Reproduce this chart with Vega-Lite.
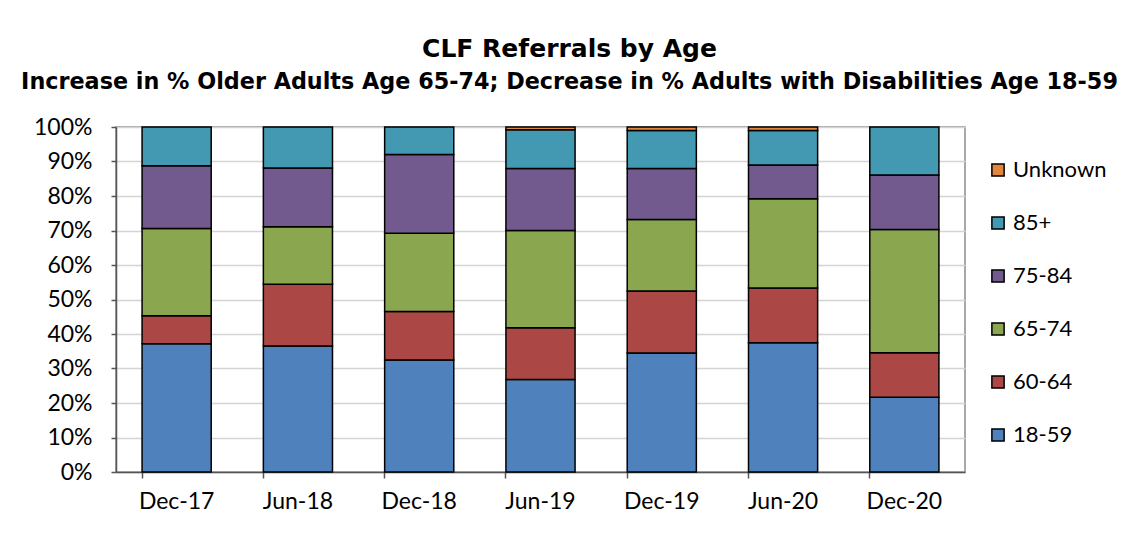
{
  "$schema": "https://vega.github.io/schema/vega-lite/v6.json",
  "autosize": "none",
  "width": 849,
  "height": 345,
  "padding": {"left": 116, "top": 127, "right": 173, "bottom": 74},
  "background": "white",
  "title": {
    "text": "CLF Referrals by Age",
    "subtitle": "Increase in % Older Adults Age 65-74; Decrease in % Adults with Disabilities Age 18-59",
    "font": "DejaVu Sans",
    "fontSize": 25,
    "fontWeight": "bold",
    "color": "black",
    "subtitleFont": "DejaVu Sans",
    "subtitleFontSize": 22.3,
    "subtitleFontWeight": "bold",
    "subtitleColor": "black",
    "subtitlePadding": 9,
    "anchor": "middle",
    "dx": 29,
    "offset": 23
  },
  "data": {
    "values": [
      {"period": "Dec-17", "group": "18-59", "pct": 37.2},
      {"period": "Dec-17", "group": "60-64", "pct": 8.1},
      {"period": "Dec-17", "group": "65-74", "pct": 25.3},
      {"period": "Dec-17", "group": "75-84", "pct": 18.2},
      {"period": "Dec-17", "group": "85+", "pct": 11.2},
      {"period": "Jun-18", "group": "18-59", "pct": 36.5},
      {"period": "Jun-18", "group": "60-64", "pct": 17.9},
      {"period": "Jun-18", "group": "65-74", "pct": 16.7},
      {"period": "Jun-18", "group": "75-84", "pct": 17.0},
      {"period": "Jun-18", "group": "85+", "pct": 11.9},
      {"period": "Dec-18", "group": "18-59", "pct": 32.5},
      {"period": "Dec-18", "group": "60-64", "pct": 14.0},
      {"period": "Dec-18", "group": "65-74", "pct": 22.7},
      {"period": "Dec-18", "group": "75-84", "pct": 22.8},
      {"period": "Dec-18", "group": "85+", "pct": 8.0},
      {"period": "Jun-19", "group": "18-59", "pct": 26.8},
      {"period": "Jun-19", "group": "60-64", "pct": 15.0},
      {"period": "Jun-19", "group": "65-74", "pct": 28.2},
      {"period": "Jun-19", "group": "75-84", "pct": 18.0},
      {"period": "Jun-19", "group": "85+", "pct": 11.2},
      {"period": "Jun-19", "group": "Unknown", "pct": 0.8},
      {"period": "Dec-19", "group": "18-59", "pct": 34.5},
      {"period": "Dec-19", "group": "60-64", "pct": 18.0},
      {"period": "Dec-19", "group": "65-74", "pct": 20.7},
      {"period": "Dec-19", "group": "75-84", "pct": 14.8},
      {"period": "Dec-19", "group": "85+", "pct": 11.0},
      {"period": "Dec-19", "group": "Unknown", "pct": 1.0},
      {"period": "Jun-20", "group": "18-59", "pct": 37.5},
      {"period": "Jun-20", "group": "60-64", "pct": 15.8},
      {"period": "Jun-20", "group": "65-74", "pct": 25.9},
      {"period": "Jun-20", "group": "75-84", "pct": 9.8},
      {"period": "Jun-20", "group": "85+", "pct": 10.0},
      {"period": "Jun-20", "group": "Unknown", "pct": 1.0},
      {"period": "Dec-20", "group": "18-59", "pct": 21.7},
      {"period": "Dec-20", "group": "60-64", "pct": 12.9},
      {"period": "Dec-20", "group": "65-74", "pct": 35.7},
      {"period": "Dec-20", "group": "75-84", "pct": 15.8},
      {"period": "Dec-20", "group": "85+", "pct": 13.9}
    ]
  },
  "mark": {"type": "bar", "stroke": "black", "strokeWidth": 1.5},
  "encoding": {
    "x": {
      "field": "period",
      "type": "nominal",
      "sort": ["Dec-17", "Jun-18", "Dec-18", "Jun-19", "Dec-19", "Jun-20", "Dec-20"],
      "scale": {"paddingInner": 0.43, "paddingOuter": 0.215},
      "axis": {
        "title": null,
        "labelAngle": 0,
        "labelFont": "Lato",
        "labelFontSize": 23,
        "labelColor": "black",
        "labelPadding": 12,
        "bandPosition": 0,
        "tickSize": 6,
        "tickColor": "#555555",
        "tickWidth": 1.5,
        "domainColor": "#555555",
        "domainWidth": 1.5,
        "grid": false
      }
    },
    "y": {
      "field": "pct",
      "type": "quantitative",
      "stack": "zero",
      "scale": {"domain": [0, 100], "nice": false},
      "axis": {
        "title": null,
        "values": [0, 10, 20, 30, 40, 50, 60, 70, 80, 90, 100],
        "labelExpr": "datum.value + '%'",
        "labelFont": "Lato",
        "labelFontSize": 23,
        "labelColor": "black",
        "labelPadding": 19,
        "tickSize": 5,
        "tickColor": "#555555",
        "tickWidth": 1.5,
        "domainColor": "#555555",
        "domainWidth": 1.5,
        "grid": true,
        "gridColor": "#d4d4d4",
        "gridWidth": 1.5
      }
    },
    "color": {
      "field": "group",
      "type": "nominal",
      "scale": {
        "domain": ["Unknown", "85+", "75-84", "65-74", "60-64", "18-59"],
        "range": ["#E0873D", "#4399B1", "#72598E", "#8AA64E", "#AB4845", "#4F81BD"]
      },
      "legend": {
        "title": null,
        "orient": "none",
        "legendX": 871,
        "legendY": 32,
        "symbolType": "square",
        "symbolSize": 150,
        "symbolStrokeColor": "black",
        "symbolStrokeWidth": 1.5,
        "labelFont": "Lato",
        "labelFontSize": 22,
        "labelColor": "black",
        "labelOffset": 4,
        "rowPadding": 31
      }
    },
    "order": {"field": "group", "sort": "ascending"}
  },
  "config": {
    "view": {"stroke": "#8c8c8c", "strokeWidth": 1.5}
  }
}
